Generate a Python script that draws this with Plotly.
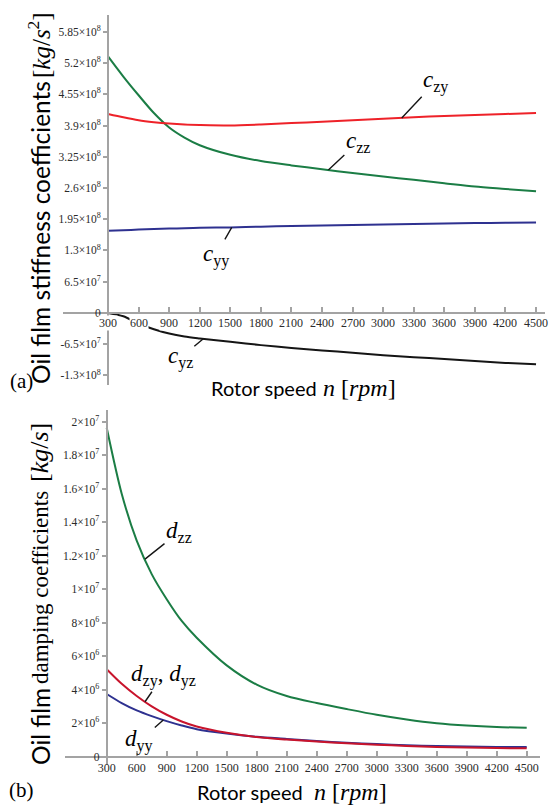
import plotly.graph_objects as go
import numpy as np

# ---------------- data ----------------
rpm = [300, 450, 600, 750, 900, 1050, 1200, 1500, 1800, 2100, 2400, 2700, 3000, 3300, 3600, 3900, 4200, 4500]

# stiffness coefficients [kg/s^2]
c_zz = [5.34e8, 4.92e8, 4.53e8, 4.16e8, 3.86e8, 3.65e8, 3.49e8, 3.29e8, 3.16e8, 3.07e8, 2.99e8, 2.91e8, 2.84e8, 2.77e8, 2.70e8, 2.63e8, 2.58e8, 2.53e8]
c_zy = [4.14e8, 4.07e8, 4.01e8, 3.97e8, 3.94e8, 3.92e8, 3.91e8, 3.90e8, 3.92e8, 3.95e8, 3.98e8, 4.01e8, 4.04e8, 4.07e8, 4.10e8, 4.12e8, 4.14e8, 4.16e8]
c_yy = [1.71e8, 1.72e8, 1.735e8, 1.745e8, 1.755e8, 1.762e8, 1.77e8, 1.78e8, 1.795e8, 1.81e8, 1.82e8, 1.83e8, 1.84e8, 1.85e8, 1.86e8, 1.87e8, 1.875e8, 1.88e8]
c_yz = [0.0, -0.7e7, -2.2e7, -3.4e7, -4.3e7, -4.9e7, -5.3e7, -6.0e7, -6.7e7, -7.3e7, -7.8e7, -8.3e7, -8.8e7, -9.2e7, -9.6e7, -10.0e7, -10.4e7, -10.7e7]

# damping coefficients [kg/s]
d_zz = [19.64e6, 15.7e6, 12.9e6, 10.9e6, 9.4e6, 8.1e6, 7.1e6, 5.45e6, 4.3e6, 3.62e6, 3.2e6, 2.84e6, 2.5e6, 2.22e6, 2.0e6, 1.86e6, 1.77e6, 1.72e6]
d_zy = [5.22e6, 4.35e6, 3.62e6, 3.0e6, 2.5e6, 2.1e6, 1.8e6, 1.42e6, 1.17e6, 1.02e6, 0.9e6, 0.8e6, 0.71e6, 0.64e6, 0.58e6, 0.54e6, 0.51e6, 0.50e6]
d_yy = [3.74e6, 3.2e6, 2.76e6, 2.42e6, 2.12e6, 1.86e6, 1.64e6, 1.38e6, 1.19e6, 1.06e6, 0.93e6, 0.83e6, 0.75e6, 0.68e6, 0.63e6, 0.60e6, 0.58e6, 0.57e6]

x_ticks = [300, 600, 900, 1200, 1500, 1800, 2100, 2400, 2700, 3000, 3300, 3600, 3900, 4200, 4500]
x_ticktext = [str(v) for v in x_ticks]

top_yticks = [-1.3e8, -6.5e7, 0, 6.5e7, 1.3e8, 1.95e8, 2.6e8, 3.25e8, 3.9e8, 4.55e8, 5.2e8, 5.85e8]
top_ytext = ["-1.3×10<sup>8</sup>", "-6.5×10<sup>7</sup>", "0", "6.5×10<sup>7</sup>", "1.3×10<sup>8</sup>",
             "1.95×10<sup>8</sup>", "2.6×10<sup>8</sup>", "3.25×10<sup>8</sup>", "3.9×10<sup>8</sup>",
             "4.55×10<sup>8</sup>", "5.2×10<sup>8</sup>", "5.85×10<sup>8</sup>"]
bot_yticks = [0, 2e6, 4e6, 6e6, 8e6, 1e7, 1.2e7, 1.4e7, 1.6e7, 1.8e7, 2e7]
bot_ytext = ["0", "2×10<sup>6</sup>", "4×10<sup>6</sup>", "6×10<sup>6</sup>", "8×10<sup>6</sup>", "1×10<sup>7</sup>",
             "1.2×10<sup>7</sup>", "1.4×10<sup>7</sup>", "1.6×10<sup>7</sup>", "1.8×10<sup>7</sup>", "2×10<sup>7</sup>"]

# ---------------- styling ----------------
W, H = 549, 806
GREEN = "#1b7d45"
RED_TOP = "#ee2229"
RED_BOT = "#c8142c"
BLUE = "#2e3190"
BLACK = "#151515"
AXIS = "#a3a3a3"
YTICKFONT = dict(family="Liberation Serif", size=11.5, color="#2a2a2a")
XTICKFONT = dict(family="Liberation Serif", size=12, color="#2a2a2a")
SANS = "Lato"
SERIF = "Liberation Serif"

# layout geometry (paper fractions)
top_xdom = [63 / W, 545 / W]
top_ydom = [1 - 385 / H, 1 - 15 / H]
bot_xdom = [65 / W, 540 / W]
bot_ydom = [1 - 765 / H, 1 - 410 / H]
top_xr = [-142, 4588]
top_yr = [-1.5e8, 6.2e8]
bot_xr = [-117, 4633]
bot_yr = [-5e5, 2.07e7]


def pos(dom, rng, v):
    return dom[0] + (v - rng[0]) / (rng[1] - rng[0]) * (dom[1] - dom[0])


fig = go.Figure()


def add(y, color, xa, ya):
    fig.add_trace(go.Scatter(x=rpm, y=y, mode="lines",
                             line=dict(color=color, width=2, shape="spline", smoothing=0.8),
                             xaxis=xa, yaxis=ya, hoverinfo="skip", showlegend=False))


add(c_yy, BLUE, "x", "y")
add(c_zz, GREEN, "x", "y")
add(c_zy, RED_TOP, "x", "y")
add(c_yz, BLACK, "x", "y")
add(d_zz, GREEN, "x2", "y2")
add(d_yy, BLUE, "x2", "y2")
add(d_zy, RED_BOT, "x2", "y2")

axis_common = dict(showgrid=False, zeroline=False, showline=True, linecolor=AXIS, linewidth=2,
                   tickcolor=AXIS, tickwidth=1.5)

fig.update_layout(
    width=W, height=H, margin=dict(l=0, r=0, t=0, b=0),
    paper_bgcolor="white", plot_bgcolor="white", showlegend=False,
    xaxis=dict(domain=top_xdom, range=top_xr, anchor="free",
               position=pos(top_ydom, top_yr, 0), tickvals=x_ticks, showticklabels=False,
               ticks="inside", ticklen=5, tickfont=XTICKFONT, **axis_common),
    yaxis=dict(domain=top_ydom, range=top_yr, anchor="free",
               position=pos(top_xdom, top_xr, 300), tickvals=top_yticks, ticktext=top_ytext,
               ticks="outside", ticklen=4, tickfont=YTICKFONT, **axis_common),
    xaxis2=dict(domain=bot_xdom, range=bot_xr, anchor="free",
                position=pos(bot_ydom, bot_yr, 0), tickvals=x_ticks, ticktext=x_ticktext,
                ticks="inside", ticklen=5, tickfont=XTICKFONT, **axis_common),
    yaxis2=dict(domain=bot_ydom, range=bot_yr, anchor="free",
                position=pos(bot_xdom, bot_xr, 300), tickvals=bot_yticks, ticktext=bot_ytext,
                ticks="outside", ticklen=4, tickfont=YTICKFONT, **axis_common),
)

ann = []
# top x tick labels (white background hides the curve beneath, as in the source figure)
for v, t in zip(x_ticks, x_ticktext):
    ann.append(dict(x=v, y=0, xref="x", yref="y", text=t, showarrow=False, yanchor="top",
                    xanchor="center", yshift=-2, font=XTICKFONT, bgcolor="white", borderpad=0))


def label(text, xv, series, xa, ya, ax, ay):
    yv = float(np.interp(xv, rpm, series))
    ann.append(dict(x=xv, y=yv, xref=xa, yref=ya, text=text, showarrow=True, arrowhead=0,
                    arrowwidth=1.4, arrowcolor=BLACK, ax=ax, ay=ay, standoff=0,
                    font=dict(family=SERIF, size=23, color="black")))


label("<i>c</i><sub>zy</sub>", 3182, c_zy, "x", "y", 34, -36)
label("<i>c</i><sub>zz</sub>", 2462, c_zz, "x", "y", 30, -28)
label("<i>c</i><sub>yy</sub>", 1514, c_yy, "x", "y", -16, 28)
label("<i>c</i><sub>yz</sub>", 1235, c_yz, "x", "y", -23, 19)
label("<i>d</i><sub>zz</sub>", 683, d_zz, "x2", "y2", 34, -27)
label("<i>d</i><sub>zy</sub>, <i>d</i><sub>yz</sub>", 683, d_zy, "x2", "y2", 18, -26)
label("<i>d</i><sub>yy</sub>", 866, d_yy, "x2", "y2", -24, 21)


def text_at(txt, xc, yc, family, size, angle=0):
    ann.append(dict(x=xc / W, y=1 - yc / H, xref="paper", yref="paper", showarrow=False,
                    xanchor="center", yanchor="middle", textangle=angle, text=txt,
                    font=dict(family=family, size=size, color="black")))


# y-axis titles (sans words + serif math part)
text_at("Oil film stiffness coefficients", 40, 233, SANS, 24.5, -90)
text_at("[<i>kg</i>/<i>s</i><sup>2</sup>]", 39, 45, SERIF, 25, -90)
text_at("Oil film", 40, 727, SANS, 24.5, -90)
text_at("damping coefficients", 40, 588, SERIF, 23, -90)
text_at("[<i>kg</i>/<i>s</i>]", 39, 453, SERIF, 26, -90)

# x-axis titles
for yc, x1, x2 in ((388, 264, 359), (792, 250, 350)):
    text_at("Rotor speed", x1, yc, SANS, 20)
    text_at("<i>n</i> [<i>rpm</i>]", x2, yc, SERIF, 24)

text_at("(a)", 21, 381, SERIF, 21)
text_at("(b)", 21, 790, SERIF, 21)

fig.update_layout(annotations=ann)
fig.write_html("out.html")
